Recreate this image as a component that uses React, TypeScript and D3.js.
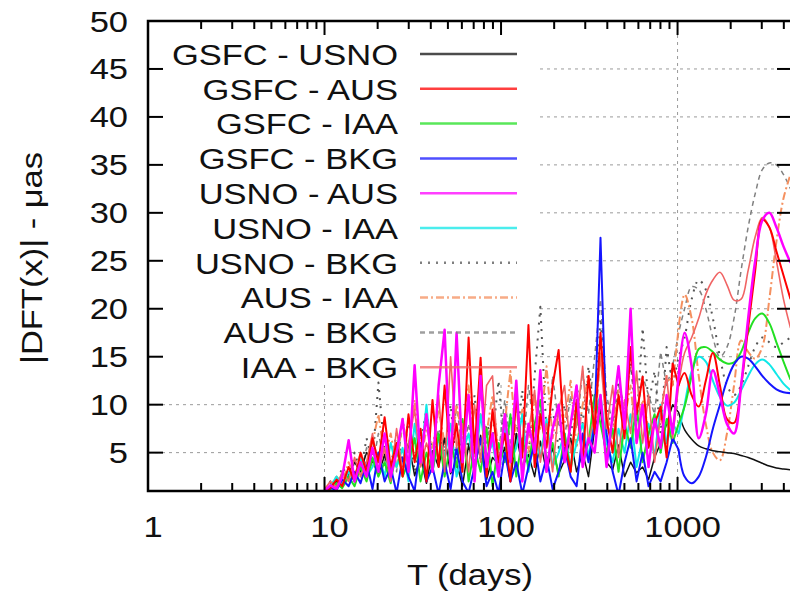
import React from 'react';
import * as d3 from 'd3';

// periods (days), log spaced
const periods = [
  10.0, 10.8, 11.7, 12.6, 13.7, 14.8, 16.0, 17.3, 18.7, 20.2,
  21.9, 23.7, 25.6, 27.7, 29.9, 32.4, 35.0, 37.8, 40.9, 44.3,
  47.9, 51.8, 56.0, 60.5, 65.5, 70.8, 76.6, 82.8, 89.5, 96.8,
  105, 113, 122, 132, 143, 155, 167, 181, 196, 212,
  229, 248, 268, 290, 313, 339, 366, 396, 429, 463,
  501, 542, 586, 634, 685, 741, 802, 867, 938, 1014,
  1096, 1202, 1318, 1445, 1585, 1738, 1905, 2089, 2291, 2512,
  2754, 3020, 3311, 3631, 3981, 4365,
];

const gsfcUsno = [
  1.0, 1.4, 2.0, 1.6, 2.8, 4.0, 3.0, 5.0, 4.2, 2.6,
  4.8, 2.2, 5.5, 3.2, 6.0, 2.6, 4.5, 1.8, 5.2, 3.5,
  6.5, 2.8, 4.0, 1.5, 5.8, 3.0, 6.8, 2.2, 4.5, 3.8,
  5.5, 2.0, 7.0, 3.5, 4.8, 2.5, 6.2, 3.0, 5.5, 2.8,
  4.2, 6.5, 3.0, 5.0, 2.5, 7.5, 9.5, 4.0, 3.2, 5.8,
  2.5, 4.0, 2.9, 3.5, 2.2, 4.5, 6.0, 8.0, 10.0, 9.2,
  7.4, 6.4, 5.7, 5.4, 5.2, 5.1, 5.0, 4.9, 4.7, 4.5,
  4.2, 3.9, 3.6, 3.4, 3.3, 3.2,
];
const gsfcAus = [
  1.0, 1.3, 2.2, 1.5, 3.5, 2.0, 5.0, 3.0, 6.5, 4.0,
  8.7, 3.5, 6.0, 2.5, 9.0, 4.0, 7.5, 2.0, 10.5, 3.5,
  12.0, 4.5, 8.0, 3.0, 17.0, 5.0, 14.9, 2.5, 9.5, 4.0,
  7.0, 2.0, 11.0, 4.5, 18.3, 3.5, 9.0, 5.5, 12.0, 15.7,
  6.0, 3.0, 10.5, 4.0, 13.0, 7.0, 17.5, 8.5, 5.0, 11.0,
  6.5, 16.0, 9.0, 12.9, 5.5, 8.0, 9.8, 4.5, 14.3, 12.0,
  13.3, 11.0, 9.8, 12.5, 15.4, 12.0, 8.5, 8.1, 12.0, 18.0,
  24.0, 29.3, 28.5, 26.0, 23.5, 21.0,
];
const gsfcIaa = [
  1.0, 1.2, 1.8, 1.3, 2.5, 1.5, 3.5, 2.0, 4.5, 2.5,
  4.0, 1.8, 5.5, 2.5, 4.0, 6.5, 2.0, 5.0, 3.0, 7.0,
  2.5, 6.0, 3.5, 8.5, 2.0, 5.5, 3.0, 7.5, 1.5, 6.0,
  4.0, 9.0, 2.5, 6.5, 3.5, 8.0, 10.5, 4.0, 6.0, 2.5,
  7.0, 3.0, 9.5, 4.5, 6.0, 11.0, 8.0, 5.0, 7.5, 3.0,
  8.0, 5.5, 10.0, 4.0, 7.0, 9.0, 5.0, 8.5, 6.0, 8.0,
  9.8, 13.0, 15.8, 16.0, 15.5, 14.7, 14.3, 14.4, 15.5, 17.5,
  19.0, 19.5, 18.5, 16.5, 14.5, 12.6,
];
const gsfcBkg = [
  1.0, 1.3, 1.1, 2.2, 1.5, 3.0, 1.8, 4.0, 1.2, 5.0,
  2.0, 3.5, 0.8, 4.5, 2.5, 1.0, 6.0, 2.0, 3.5, 0.7,
  4.0, 1.2, 5.5, 2.0, 0.8, 3.5, 6.5, 1.5, 3.0, 0.8,
  5.0, 2.0, 4.0, 0.7, 3.5, 6.0, 2.0, 4.5, 1.2, 3.0,
  5.5, 2.5, 1.5, 7.0, 4.0, 8.0, 27.4, 7.0, 3.0, 0.6,
  4.0, 6.5, 2.0, 5.0, 1.5, 3.0, 2.0, 4.0, 6.5, 5.3,
  2.5, 1.8, 2.5, 4.5, 7.5, 10.0, 12.5, 14.2, 15.0, 14.8,
  14.0, 13.0, 12.2, 11.6, 11.3, 11.2,
];
const usnoAus = [
  1.0, 1.6, 1.2, 2.5, 6.3, 2.0, 4.0, 2.5, 5.5, 3.0,
  7.0, 2.5, 5.0, 8.5, 3.0, 14.1, 4.0, 9.0, 3.0, 12.0,
  17.8, 3.0, 17.5, 4.0, 11.0, 2.0, 13.0, 3.5, 7.0, 2.5,
  9.0, 4.0, 12.5, 2.0, 8.0, 5.0, 13.6, 3.0, 7.5, 10.0,
  4.0, 8.0, 12.0, 3.5, 6.5, 5.0, 11.0, 3.5, 9.0, 14.0,
  7.5, 20.0, 6.0, 10.0, 3.5, 8.5, 5.5, 11.0, 7.0, 13.0,
  17.5, 14.0, 6.5, 9.0, 13.6, 11.0, 8.0, 7.0, 12.0, 19.0,
  25.0, 29.2, 30.0, 28.5, 26.5, 24.8,
];
const usnoIaa = [
  1.0, 1.5, 2.5, 1.5, 3.0, 2.0, 4.5, 2.5, 3.5, 5.0,
  2.5, 6.0, 3.5, 5.5, 2.0, 8.0, 4.0, 10.0, 3.0, 6.5,
  4.5, 8.0, 2.5, 5.0, 7.0, 3.0, 9.0, 4.5, 6.0, 2.5,
  7.5, 4.0, 5.5, 9.0, 3.0, 6.5, 4.5, 8.5, 3.5, 5.0,
  7.0, 3.5, 6.0, 8.0, 4.5, 9.0, 11.0, 6.0, 4.0, 7.5,
  5.0, 9.0, 3.5, 6.5, 8.0, 4.5, 10.0, 6.0, 8.0, 7.0,
  10.0, 13.5, 15.0, 14.5, 12.5, 10.8, 9.9, 10.2, 11.5, 13.0,
  14.2, 14.7, 14.2, 13.2, 12.2, 11.5,
];
const usnoBkg = [
  1.2, 2.0, 1.5, 3.5, 2.5, 5.0, 3.0, 6.5, 4.0, 12.3,
  5.0, 3.5, 7.0, 4.0, 8.5, 3.0, 6.0, 9.5, 4.5, 7.0,
  5.0, 10.0, 3.5, 7.5, 5.5, 11.0, 4.0, 8.0, 6.5, 12.5,
  5.0, 9.0, 6.0, 11.5, 4.5, 13.0, 20.2, 7.0, 9.5, 5.5,
  10.0, 6.5, 12.0, 8.0, 14.0, 9.0, 19.0, 10.0, 7.0, 12.5,
  9.0, 15.0, 8.0, 18.0, 10.0, 13.5, 7.0, 16.0, 12.0, 15.0,
  17.0, 21.0, 23.0, 22.0, 19.0, 15.0, 12.0, 11.0, 12.0, 14.0,
  16.0, 17.0, 16.5, 16.0, 16.5, 17.0,
];
const ausIaa = [
  1.1, 1.5, 2.5, 1.8, 4.0, 2.5, 5.0, 3.5, 6.0, 9.0,
  4.5, 7.0, 3.5, 8.5, 5.0, 10.5, 4.0, 7.5, 5.5, 9.5,
  6.0, 4.0, 10.0, 6.5, 12.0, 4.5, 9.0, 7.0, 11.0, 5.0,
  8.0, 13.5, 6.0, 9.5, 5.0, 11.0, 7.5, 14.0, 6.5, 10.0,
  8.0, 12.5, 5.5, 10.0, 13.0, 7.0, 15.5, 9.0, 6.5, 11.5,
  8.5, 12.0, 6.0, 10.5, 7.5, 4.5, 9.0, 13.0, 12.0, 18.0,
  21.5, 19.0, 13.0, 8.0, 5.0, 4.2, 7.0, 12.0, 16.7, 15.5,
  14.8, 16.0, 21.0, 27.0, 31.5, 34.0,
];
const ausBkg = [
  1.0, 1.8, 1.3, 3.0, 2.0, 4.0, 2.5, 5.5, 3.5, 7.0,
  4.0, 6.0, 3.0, 8.0, 5.0, 6.5, 3.5, 9.0, 4.5, 7.5,
  6.0, 3.5, 10.0, 5.0, 8.0, 4.0, 11.5, 6.0, 9.0, 5.0,
  10.5, 6.0, 8.0, 4.5, 12.0, 7.0, 9.5, 5.5, 13.0, 8.0,
  6.5, 11.0, 7.5, 13.5, 9.0, 15.0, 21.0, 11.0, 8.0, 12.0,
  10.0, 14.0, 8.5, 13.0, 11.0, 9.0, 15.5, 12.0, 14.0, 17.5,
  20.0, 22.3, 22.0, 20.0, 17.0, 15.0, 16.0, 19.0, 24.0, 28.5,
  32.0, 34.5, 35.2, 35.0, 34.0, 32.5,
];
const iaaBkg = [
  1.2, 2.0, 1.4, 3.0, 2.0, 4.5, 2.5, 4.0, 7.0, 3.0,
  5.5, 2.0, 7.5, 3.0, 6.0, 9.5, 3.5, 6.0, 4.0, 11.0,
  3.0, 15.0, 5.5, 8.0, 3.0, 10.0, 4.0, 12.0, 13.0, 3.5,
  8.5, 5.0, 10.0, 3.0, 7.0, 11.5, 4.0, 8.0, 3.0, 9.5,
  12.0, 5.0, 8.0, 14.0, 6.0, 9.0, 15.0, 7.5, 12.0, 4.5,
  10.5, 7.0, 13.5, 6.0, 11.0, 4.0, 9.0, 13.0, 6.5, 12.0,
  15.4, 17.0, 19.0, 21.5, 23.0, 23.8, 22.5, 20.9, 21.0, 24.0,
  27.5, 29.5, 28.5, 25.0, 21.0, 18.0,
];

const labels = [
  'GSFC - USNO', 'GSFC - AUS', 'GSFC - IAA', 'GSFC - BKG', 'USNO - AUS',
  'USNO - IAA', 'USNO - BKG', 'AUS - IAA', 'AUS - BKG', 'IAA - BKG',
];
const yTicks = [5, 10, 15, 20, 25, 30, 35, 40, 45, 50];
const xTicks = [1, 10, 100, 1000];

const seriesValues = [gsfcUsno, gsfcAus, gsfcIaa, gsfcBkg, usnoAus, usnoIaa, usnoBkg, ausIaa, ausBkg, iaaBkg];
const styles = [
  { color: '#111111', width: 1.5, dash: null },
  { color: '#ff0000', width: 2, dash: null },
  { color: '#22e022', width: 2, dash: null },
  { color: '#1515ff', width: 2, dash: null },
  { color: '#ff00ff', width: 2.5, dash: null },
  { color: '#10e8e8', width: 2, dash: null },
  { color: '#555555', width: 2, dash: '2,6' },
  { color: '#f5905f', width: 2, dash: '8,3,2,3' },
  { color: '#808080', width: 1.5, dash: '5,4' },
  { color: '#f06464', width: 1.6, dash: null },
];
// draw order: dashed behind, solids on top
const drawOrder = [8, 6, 7, 0, 5, 2, 3, 9, 1, 4];
// the long-period part (> ~1000 d) is smooth, the short-period part is spiky
const SPLIT = 59;

const W = 790, H = 597;
const left = 148, right = 792, top = 21, bottom = 491;
const SX = 1.15;
const FONT = '"Liberation Sans", Arial, Helvetica, sans-serif';

const Txt = ({ x, y, anchor = 'start', children, rotate = 0 }) => (
  <text
    transform={`translate(${x},${y})${rotate ? ` rotate(${rotate})` : ''} scale(${SX},1)`}
    textAnchor={anchor}
    fontFamily={FONT}
    fontSize={30}
    fill="#111"
  >
    {children}
  </text>
);

export default function App() {
  const x = d3.scaleLog().domain([1, 4450]).range([left, right]);
  const y = d3.scaleLinear().domain([1, 50]).range([bottom, top]);
  const spiky = d3.line().x(d => x(d[0])).y(d => y(d[1]));
  const smooth = d3.line().x(d => x(d[0])).y(d => y(d[1])).curve(d3.curveCatmullRom.alpha(0.5));

  const minor = [];
  for (let dec = 1; dec <= 1000; dec *= 10) {
    for (let m = 2; m <= 9; m++) {
      const v = dec * m;
      if (v < 4450) minor.push(v);
    }
  }

  const gridY = yTicks.filter(v => v < 50);
  const gridX = [10, 100, 1000];

  return (
    <svg width={W} height={H} style={{ display: 'block', position: 'absolute', left: 0, top: 0, background: '#fff' }}>
      <defs>
        <clipPath id="plotclip">
          <rect x={left} y={top} width={right - left} height={bottom - top} />
        </clipPath>
      </defs>
      <rect x={0} y={0} width={W} height={H} fill="#fff" />

      {/* grid */}
      <g stroke="#9a9a9a" strokeWidth={1} strokeDasharray="3,4">
        {gridY.map(v => <line key={'gy' + v} x1={left} x2={right} y1={y(v)} y2={y(v)} />)}
        {gridX.map(v => <line key={'gx' + v} x1={x(v)} x2={x(v)} y1={top} y2={bottom} />)}
      </g>

      {/* opaque key box */}
      <rect x={left + 2} y={top + 2} width={387} height={362} fill="#fff" />

      {/* data */}
      <g clipPath="url(#plotclip)" fill="none" strokeLinejoin="round">
        {drawOrder.map(si => {
          const s = styles[si];
          const pts = periods.map((p, i) => [p, seriesValues[si][i]]);
          const d = spiky(pts.slice(0, SPLIT + 1)) + smooth(pts.slice(SPLIT)).replace(/^M[^A-Za-z]*/, '');
          return (
            <path
              key={labels[si]}
              d={d}
              stroke={s.color}
              strokeWidth={s.width}
              strokeDasharray={s.dash || undefined}
            />
          );
        })}
      </g>

      {/* key */}
      {labels.map((lab, j) => {
        const cy = 54 + 34.8 * j;
        const s = styles[j];
        return (
          <g key={'k' + lab}>
            <Txt x={398} y={cy + 10.8} anchor="end">{lab}</Txt>
            <line x1={420} x2={517} y1={cy} y2={cy} stroke={s.color} strokeWidth={2.5}
              strokeDasharray={s.dash || undefined} opacity={0.75} />
          </g>
        );
      })}

      {/* border & ticks */}
      <g stroke="#000" strokeWidth={2}>
        {yTicks.map(v => (
          <g key={'yt' + v}>
            <line x1={left} x2={left + 15} y1={y(v)} y2={y(v)} />
            <line x1={right} x2={right - 15} y1={y(v)} y2={y(v)} />
          </g>
        ))}
        {xTicks.map(v => (
          <g key={'xt' + v}>
            <line x1={x(v)} x2={x(v)} y1={bottom} y2={bottom - 14} />
            <line x1={x(v)} x2={x(v)} y1={top} y2={top + 14} />
          </g>
        ))}
        {minor.map(v => (
          <g key={'mx' + v}>
            <line x1={x(v)} x2={x(v)} y1={bottom} y2={bottom - 8} />
            <line x1={x(v)} x2={x(v)} y1={top} y2={top + 8} />
          </g>
        ))}
        <rect x={left} y={top} width={right - left} height={bottom - top} fill="none" strokeWidth={2.5} />
      </g>

      {/* tick labels */}
      {yTicks.map(v => (
        <Txt key={'yl' + v} x={128} y={y(v) + 10.5} anchor="end">{v}</Txt>
      ))}
      {xTicks.map(v => (
        <Txt key={'xl' + v} x={x(v) + 5} y={537} anchor="middle">{v}</Txt>
      ))}

      <Txt x={470} y={585} anchor="middle">T (days)</Txt>
      <Txt x={42} y={258} anchor="middle" rotate={-90}>|DFT(x)| - μas</Txt>
    </svg>
  );
}
